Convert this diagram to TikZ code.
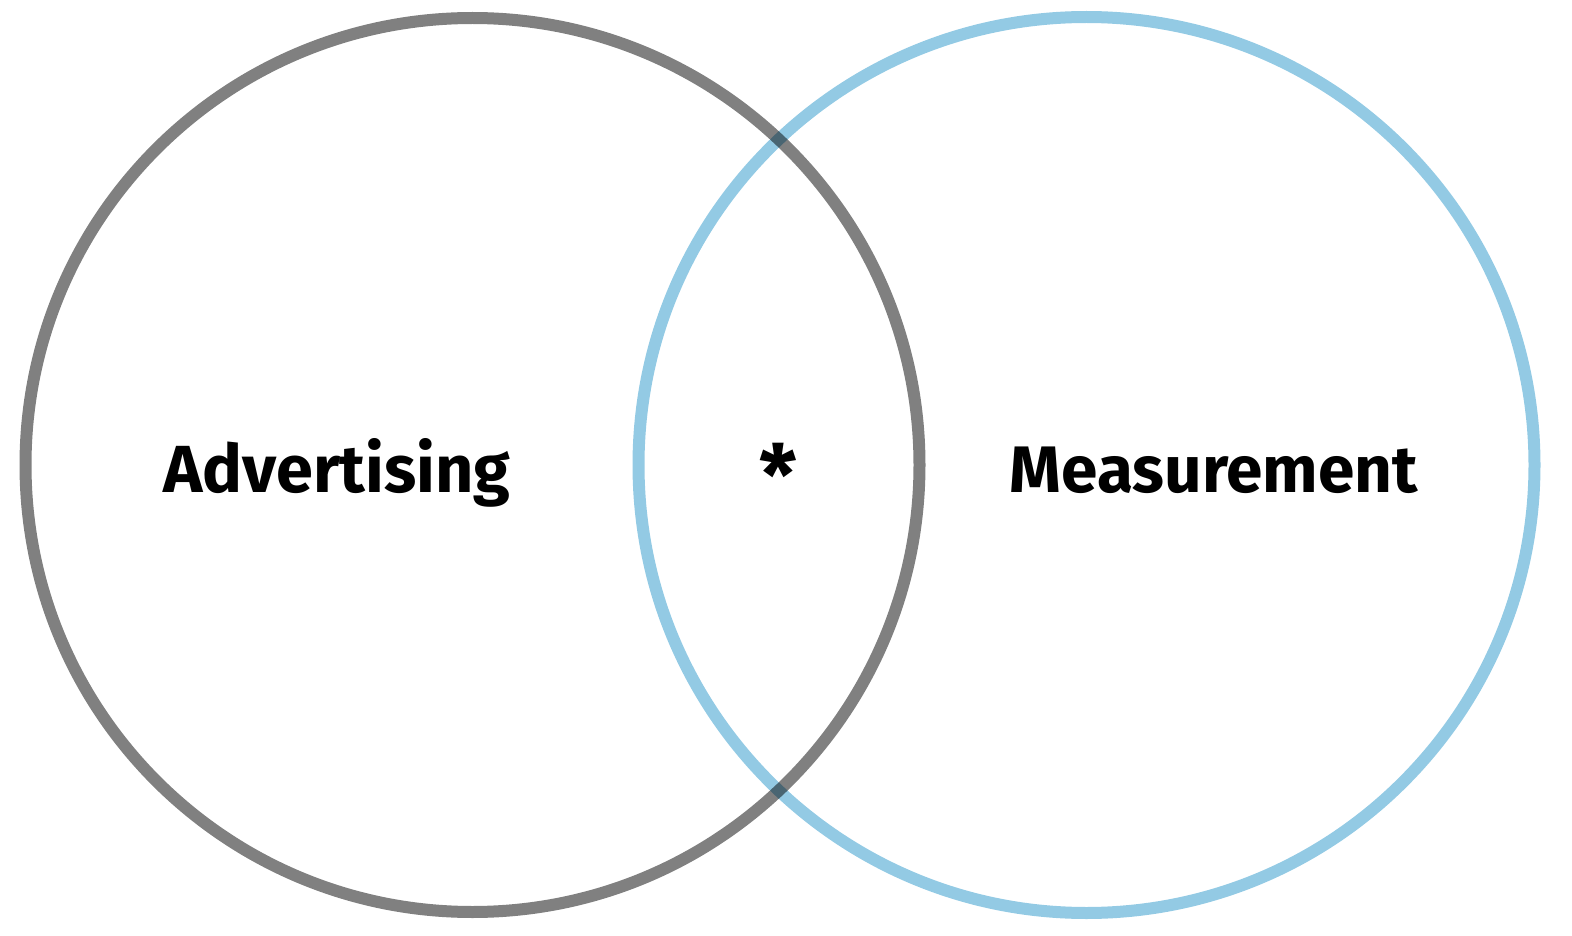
\documentclass[tikz,border=0pt]{standalone}
\usepackage{fontspec}
\setmainfont{Fira Sans}
\begin{document}
\begin{tikzpicture}[x=1pt,y=-1pt,
  ring/.style={line width=12pt},
  label/.style={font=\fontsize{68}{80}\selectfont\bfseries, anchor=base, inner sep=0pt}]
\useasboundingbox (0,0) rectangle (1572,936);
\definecolor{ringblue}{RGB}{147,202,228}
\definecolor{ringgray}{RGB}{128,128,128}
\draw[ring, draw=ringgray] (472.5,465) circle[radius=447pt];
\begin{scope}[blend mode=multiply]
\draw[ring, draw=ringblue] (1086.5,465) circle[radius=448pt];
\end{scope}
\node[label] (adv) at (337,492) {\resizebox{347pt}{!}{Advertising}};
\node[label] (meas) at (1214,492) {\resizebox{408pt}{!}{Measurement}};
\node[font=\fontsize{84}{90}\selectfont\bfseries, inner sep=0pt] (star) at (778,474) {*};
\end{tikzpicture}
\end{document}
